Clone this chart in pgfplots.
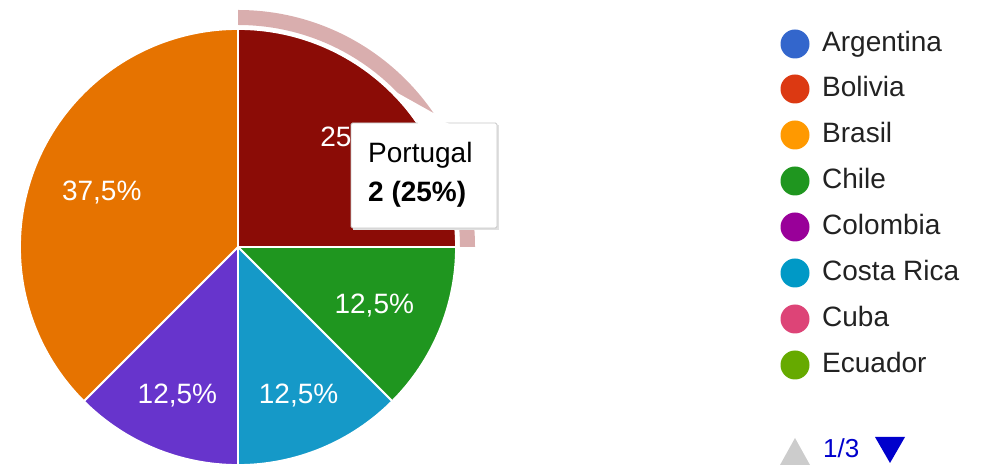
\documentclass[border=0pt]{standalone}
\usepackage{pgfplots}
\pgfplotsset{compat=1.18}
\usepackage{pgfplotstable}
\usepackage{fontspec}
\setmainfont{Liberation Sans}

\definecolor{cPor}{HTML}{8B0C06}
\definecolor{cChi}{HTML}{1F961F}
\definecolor{cCos}{HTML}{1599C8}
\definecolor{cCol}{HTML}{6734CC}
\definecolor{cOra}{HTML}{E67300}
\definecolor{ringc}{HTML}{D9AEAE}
\definecolor{lArg}{HTML}{3366CC}
\definecolor{lBol}{HTML}{DC3912}
\definecolor{lBra}{HTML}{FF9900}
\definecolor{lChi}{HTML}{1F961F}
\definecolor{lCol}{HTML}{990099}
\definecolor{lCos}{HTML}{0099C6}
\definecolor{lCub}{HTML}{DD4477}
\definecolor{lEcu}{HTML}{66AA00}
\definecolor{txt}{HTML}{222222}
\definecolor{navblue}{HTML}{0000CC}

% slices clockwise from 12 o'clock: value and colour
\pgfplotstableread{
value color
2 cPor
1 cChi
1 cCos
1 cCol
3 cOra
}\piedata

\newcommand{\bigfont}{\fontsize{28}{32}\selectfont}

\begin{document}
\begin{tikzpicture}
\path[use as bounding box] (0,0) rectangle (981pt,465pt);
\begin{axis}[
  at={(0pt,0pt)}, anchor=origin,
  scale only axis, width=981pt, height=465pt,
  xmin=0, xmax=981, ymin=0, ymax=465,
  hide axis, clip=true,
]
% total
\pgfplotstablegetrowsof{\piedata}
\pgfmathtruncatemacro{\nrows}{\pgfplotsretval-1}
\def\total{0}
\pgfplotsforeachungrouped \i in {0,...,\nrows}{%
  \pgfplotstablegetelem{\i}{value}\of\piedata
  \pgfmathsetmacro{\total}{\total+\pgfplotsretval}%
}
% slices
\def\cum{90}
\pgfplotsforeachungrouped \i in {0,...,\nrows}{%
  \pgfplotstablegetelem{\i}{value}\of\piedata \let\v\pgfplotsretval
  \pgfplotstablegetelem{\i}{color}\of\piedata \let\c\pgfplotsretval
  \pgfmathsetmacro{\a}{\cum}%
  \pgfmathsetmacro{\b}{\cum-360*\v/\total}%
  \edef\cmd{\noexpand\filldraw[fill=\c, draw=white, line width=1.8pt, line join=round]
     (axis cs:238,218) -- ++(\a:218pt) arc[start angle=\a, end angle=\b, radius=218pt] -- cycle;}%
  \cmd
  \let\cum\b
}
% highlight ring of the hovered slice
\fill[ringc] (axis cs:238,218) ++(90:222pt) arc[start angle=90, end angle=0, radius=222pt]
   -- ++(15pt,0pt) arc[start angle=0, end angle=90, radius=237pt] -- cycle;
% labels
\def\cum{90}
\pgfplotsforeachungrouped \i in {0,...,\nrows}{%
  \pgfplotstablegetelem{\i}{value}\of\piedata \let\v\pgfplotsretval
  \pgfmathsetmacro{\a}{\cum}%
  \pgfmathsetmacro{\b}{\cum-360*\v/\total}%
  \pgfmathsetmacro{\m}{(\a+\b)/2}%
  \pgfmathsetmacro{\p}{100*\v/\total}%
  \pgfmathsetmacro{\w}{ifthenelse(\p==int(\p),56,80)}%
  \pgfmathsetmacro{\r}{166-0.25*\w*abs(cos(\m))}%
  \pgfmathsetmacro{\lx}{238+\r*cos(\m)}%
  \pgfmathsetmacro{\ly}{218+\r*sin(\m)-10}%
  \edef\cmd{\noexpand\node[white, anchor=base, inner sep=0pt, font=\noexpand\bigfont] at (axis cs:\lx,\ly)
     {\noexpand\pgfmathprintnumber[fixed,precision=1,use comma,assume math mode=true]{\p}\noexpand\%};}%
  \cmd
  \let\cum\b
}
% tooltip
\fill[black!12] (axis cs:353,235) rectangle (axis cs:499,340);
\fill[white] (axis cs:417,341) -- (axis cs:453,341) -- (axis cs:394,374) -- cycle;
\filldraw[fill=white, draw=black!22, line width=0.8pt, rounded corners=1.5pt]
   (axis cs:351,237) rectangle (axis cs:497,342);
\fill[white] (axis cs:418,340) -- (axis cs:452,340) -- (axis cs:416,355) -- cycle;
\node[anchor=base west, inner sep=0pt, font=\bigfont, text=black] at (axis cs:368,302) {Portugal};
\node[anchor=base west, inner sep=0pt, font=\bigfont\bfseries, text=black] at (axis cs:368,263) {2 (25\%)};
% legend
\fill[lArg] (axis cs:795,421) circle[radius=14.5pt];
\fill[lBol] (axis cs:795,376) circle[radius=14.5pt];
\fill[lBra] (axis cs:795,330) circle[radius=14.5pt];
\fill[lChi] (axis cs:795,284) circle[radius=14.5pt];
\fill[lCol] (axis cs:795,238) circle[radius=14.5pt];
\fill[lCos] (axis cs:795,192) circle[radius=14.5pt];
\fill[lCub] (axis cs:795,146) circle[radius=14.5pt];
\fill[lEcu] (axis cs:795,100) circle[radius=14.5pt];
\node[anchor=base west, inner sep=0pt, font=\bigfont, text=txt] at (axis cs:822,413) {Argentina};
\node[anchor=base west, inner sep=0pt, font=\bigfont, text=txt] at (axis cs:822,368) {Bolivia};
\node[anchor=base west, inner sep=0pt, font=\bigfont, text=txt] at (axis cs:822,322) {Brasil};
\node[anchor=base west, inner sep=0pt, font=\bigfont, text=txt] at (axis cs:822,276) {Chile};
\node[anchor=base west, inner sep=0pt, font=\bigfont, text=txt] at (axis cs:822,230) {Colombia};
\node[anchor=base west, inner sep=0pt, font=\bigfont, text=txt] at (axis cs:822,184) {Costa Rica};
\node[anchor=base west, inner sep=0pt, font=\bigfont, text=txt] at (axis cs:822,138) {Cuba};
\node[anchor=base west, inner sep=0pt, font=\bigfont, text=txt] at (axis cs:822,92) {Ecuador};
% pager
\fill[black!20] (axis cs:780,0) -- (axis cs:810,0) -- (axis cs:795,27) -- cycle;
\node[anchor=base west, inner sep=0pt, font=\fontsize{26}{30}\selectfont, text=navblue] at (axis cs:823,7) {1/3};
\fill[navblue] (axis cs:875,28) -- (axis cs:905,28) -- (axis cs:890,2) -- cycle;
\end{axis}
\end{tikzpicture}
\end{document}
